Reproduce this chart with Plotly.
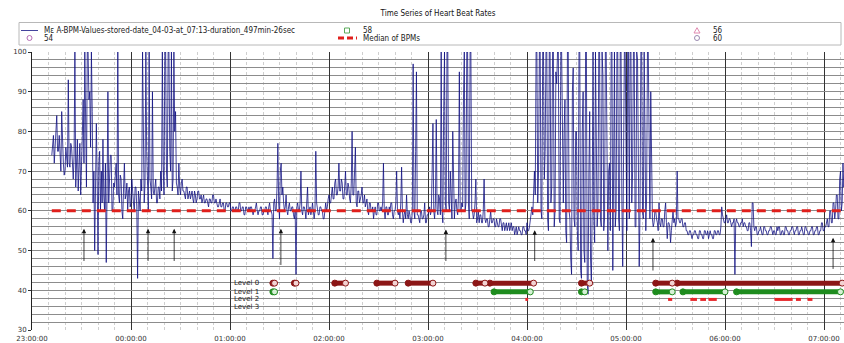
import plotly.graph_objects as go
import pandas as pd

# ---------------- data ----------------
START = "2021-04-02 23:12:00"   # first sample, one value every 30 seconds
SERIES_NAME = "Mε A-BPM-Values-stored-date_04-03-at_07:13-duration_497min-26sec"
BPM = [
    74, 78, 79, 72, 76, 81, 84, 75, 75, 79, 73, 70, 85, 74, 72, 69, 70, 76, 74, 71,
    93, 72, 71, 77, 76, 70, 68, 74, 100, 66, 72, 78, 65, 70, 77, 64, 70, 79, 88, 72,
    100, 74, 66, 100, 100, 88, 90, 76, 100, 85, 62, 70, 50, 66, 82, 68, 49, 72, 75, 60,
    70, 62, 78, 64, 60, 72, 47, 65, 90, 62, 68, 74, 74, 60, 60, 67, 66, 70, 72, 64,
    100, 64, 62, 69, 68, 60, 58, 66, 72, 63, 64, 67, 60, 65, 66, 61, 62, 68, 64, 62,
    60, 66, 66, 61, 43, 65, 63, 60, 68, 65, 100, 70, 62, 67, 100, 75, 64, 60, 100, 68,
    66, 63, 90, 65, 64, 67, 68, 62, 62, 66, 66, 63, 70, 65, 100, 72, 64, 100, 100, 70,
    66, 100, 100, 75, 70, 100, 65, 68, 100, 80, 85, 67, 66, 64, 72, 66, 64, 67, 68, 65,
    65, 64, 63, 66, 66, 63, 64, 65, 63, 64, 65, 63, 62, 65, 64, 62, 63, 65, 65, 63,
    63, 64, 62, 63, 64, 62, 62, 63, 63, 62, 61, 63, 63, 62, 62, 64, 64, 62, 62, 63,
    62, 61, 61, 62, 63, 61, 61, 62, 62, 60, 60, 62, 62, 61, 61, 62, 62, 60, 60, 61,
    61, 60, 60, 61, 61, 60, 60, 62, 62, 60, 60, 61, 61, 59, 59, 61, 61, 60, 60, 61,
    60, 61, 61, 60, 59, 60, 60, 61, 62, 60, 59, 60, 60, 61, 61, 59, 59, 60, 60, 61,
    61, 60, 59, 61, 62, 60, 60, 59, 48, 62, 63, 60, 60, 66, 77, 62, 58, 70, 72, 64,
    66, 62, 60, 61, 64, 60, 59, 61, 62, 60, 60, 61, 61, 59, 58, 60, 44, 61, 62, 60,
    60, 62, 70, 60, 59, 61, 61, 60, 58, 62, 66, 59, 60, 61, 59, 60, 62, 59, 58, 60,
    75, 62, 60, 59, 59, 61, 61, 60, 60, 58, 58, 61, 62, 60, 61, 63, 64, 62, 62, 64,
    66, 63, 63, 67, 68, 64, 64, 66, 72, 65, 65, 68, 67, 63, 63, 66, 70, 64, 64, 67,
    66, 63, 62, 67, 80, 64, 64, 70, 76, 62, 61, 65, 65, 62, 63, 64, 66, 62, 62, 64,
    61, 62, 63, 60, 59, 62, 62, 60, 60, 61, 58, 60, 61, 59, 59, 62, 62, 60, 60, 61,
    60, 62, 72, 60, 58, 61, 61, 59, 59, 61, 60, 62, 62, 59, 58, 60, 60, 62, 70, 60,
    59, 60, 58, 62, 71, 60, 57, 59, 60, 58, 64, 59, 58, 60, 59, 57, 57, 60, 97, 60,
    58, 75, 95, 59, 59, 58, 57, 60, 60, 58, 58, 59, 62, 57, 57, 59, 59, 60, 61, 59,
    60, 70, 82, 60, 58, 62, 83, 60, 59, 64, 63, 59, 100, 60, 57, 85, 100, 62, 60, 100,
    100, 62, 60, 70, 62, 58, 80, 60, 58, 62, 63, 60, 59, 64, 95, 60, 60, 62, 61, 88,
    100, 60, 62, 100, 100, 62, 58, 100, 100, 60, 60, 58, 59, 62, 68, 57, 58, 60, 57, 59,
    59, 57, 57, 60, 68, 58, 57, 58, 58, 56, 56, 58, 60, 57, 57, 58, 58, 56, 56, 58,
    57, 56, 56, 58, 58, 56, 55, 57, 57, 55, 56, 57, 55, 56, 57, 55, 56, 57, 55, 56,
    56, 54, 55, 56, 54, 55, 56, 55, 55, 54, 54, 56, 56, 55, 55, 54, 57, 55, 55, 56,
    58, 60, 61, 59, 66, 70, 64, 100, 100, 62, 70, 100, 100, 60, 58, 100, 100, 68, 75, 100,
    100, 58, 55, 100, 100, 62, 66, 100, 100, 56, 60, 95, 92, 100, 100, 58, 57, 100, 100, 70,
    62, 80, 88, 55, 52, 100, 100, 60, 58, 48, 44, 90, 96, 58, 56, 80, 80, 55, 50, 100,
    100, 45, 43, 80, 90, 50, 47, 100, 100, 42, 39, 70, 85, 48, 42, 60, 100, 58, 52, 100,
    78, 56, 60, 100, 100, 58, 56, 100, 94, 55, 58, 100, 100, 60, 50, 70, 72, 55, 100, 100,
    45, 70, 100, 56, 60, 100, 100, 58, 55, 100, 100, 62, 46, 72, 100, 100, 62, 55, 100, 100,
    58, 100, 100, 62, 70, 100, 100, 56, 56, 100, 98, 62, 46, 60, 100, 100, 60, 58, 100, 80,
    55, 64, 100, 100, 62, 58, 90, 70, 58, 56, 57, 60, 60, 58, 57, 55, 62, 57, 56, 58,
    58, 56, 56, 60, 62, 57, 53, 57, 57, 56, 52, 55, 58, 60, 57, 58, 56, 57, 70, 58,
    58, 57, 57, 58, 58, 56, 56, 57, 57, 55, 55, 54, 54, 55, 55, 54, 53, 54, 54, 55,
    55, 54, 54, 53, 53, 55, 55, 54, 54, 53, 53, 55, 55, 54, 54, 55, 53, 54, 55, 54,
    54, 53, 53, 55, 55, 54, 54, 55, 55, 54, 54, 56, 61, 59, 58, 57, 57, 58, 59, 57,
    57, 58, 58, 57, 56, 57, 57, 58, 44, 57, 58, 57, 57, 56, 56, 57, 57, 58, 56, 57,
    57, 56, 56, 55, 55, 57, 57, 55, 51, 62, 62, 56, 55, 56, 56, 54, 54, 55, 55, 56,
    55, 54, 54, 56, 56, 55, 55, 54, 54, 55, 55, 56, 56, 55, 54, 55, 55, 54, 54, 56,
    55, 56, 56, 54, 54, 55, 55, 54, 54, 56, 56, 55, 55, 54, 54, 55, 55, 56, 56, 55,
    54, 55, 55, 56, 56, 54, 54, 55, 55, 56, 55, 54, 54, 56, 56, 55, 55, 54, 54, 55,
    55, 56, 56, 54, 54, 55, 55, 56, 56, 54, 54, 55, 55, 57, 57, 55, 55, 56, 56, 57,
    58, 56, 56, 60, 60, 57, 57, 62, 62, 58, 60, 64, 64, 58, 58, 68, 70, 60, 62, 72, 66, 68,
]
MEDIAN_BPM = 60

LEVEL_LABELS = ["Level 0", "Level 1", "Level 2", "Level 3"]
LEVEL_Y = [41.8, 39.6, 37.7, 35.8]
LEVEL0_START = ["2021-04-03 01:26:00", "2021-04-03 01:39:00", "2021-04-03 02:03:30", "2021-04-03 02:29:00",
                "2021-04-03 02:48:00", "2021-04-03 03:29:00", "2021-04-03 03:37:30", "2021-04-03 04:33:00",
                "2021-04-03 05:18:00", "2021-04-03 05:31:00"]
LEVEL0_END = ["2021-04-03 01:27:00", "2021-04-03 01:40:00", "2021-04-03 02:10:00", "2021-04-03 02:40:00",
              "2021-04-03 03:03:00", "2021-04-03 03:34:30", "2021-04-03 04:04:00", "2021-04-03 04:38:00",
              "2021-04-03 05:28:00", "2021-04-03 07:11:00"]
LEVEL1_START = ["2021-04-03 01:26:00", "2021-04-03 03:40:00", "2021-04-03 04:33:00", "2021-04-03 05:18:00",
                "2021-04-03 05:34:30", "2021-04-03 06:07:00"]
LEVEL1_END = ["2021-04-03 01:27:00", "2021-04-03 04:02:00", "2021-04-03 04:35:00", "2021-04-03 05:28:00",
              "2021-04-03 06:00:00", "2021-04-03 07:10:00"]
LEVEL2_START = ["2021-04-03 03:59:00", "2021-04-03 05:25:30", "2021-04-03 05:39:00", "2021-04-03 05:45:00",
                "2021-04-03 05:50:00", "2021-04-03 06:30:00", "2021-04-03 06:43:00", "2021-04-03 06:50:00"]
LEVEL2_END = ["2021-04-03 04:00:40", "2021-04-03 05:28:00", "2021-04-03 05:43:00", "2021-04-03 05:48:30",
              "2021-04-03 05:55:00", "2021-04-03 06:41:00", "2021-04-03 06:46:00", "2021-04-03 06:53:00"]

ARROW_TIMES = ["2021-04-02 23:31:30", "2021-04-03 00:10:20", "2021-04-03 00:26:10", "2021-04-03 01:30:50",
               "2021-04-03 03:10:50", "2021-04-03 04:04:40", "2021-04-03 05:16:20", "2021-04-03 07:05:30"]
ARROW_TIP = [55.5, 55.5, 55.5, 55.5, 55.3, 55.1, 53.2, 53.2]
ARROW_TAIL = [47.0, 47.0, 47.0, 46.0, 47.0, 47.0, 44.6, 45.0]

X_RANGE = ["2021-04-02 23:00:00", "2021-04-03 07:12:07"]
Y_RANGE = [30, 100]

# ---------------- figure ----------------
times = pd.date_range(START, periods=len(BPM), freq="30s")

W_PX, H_PX = 844, 343
M_L, M_R, M_T, M_B = 32, 0, 52, 13
PW, PH = W_PX - M_L - M_R, H_PX - M_T - M_B


def pxx(p):
    return (p - M_L) / PW


def pxy(p):
    return 1 - (p - M_T) / PH


fig = go.Figure()

fig.add_trace(go.Scatter(x=times, y=BPM, mode="lines", name=SERIES_NAME,
                         line=dict(color="rgba(15,15,130,0.78)", width=1), showlegend=False))

fig.add_trace(go.Scatter(x=[times[0], times[-1]], y=[MEDIAN_BPM, MEDIAN_BPM], mode="lines",
                         name="Median of BPMs", showlegend=False,
                         line=dict(color="#e0201c", width=3, dash="9px,6px")))


def seg(starts, ends, yv):
    xs, ys = [], []
    for a, b in zip(starts, ends):
        xs += [a, b, None]
        ys += [yv, yv, None]
    return xs, ys


for starts, ends, yv, col, light in [
    (LEVEL0_START, LEVEL0_END, LEVEL_Y[0], "#8c1616", "#f2d2d2"),
    (LEVEL1_START, LEVEL1_END, LEVEL_Y[1], "#1e8c1e", "#d6f0d6"),
]:
    xs, ys = seg(starts, ends, yv)
    fig.add_trace(go.Scatter(x=xs, y=ys, mode="lines", showlegend=False,
                             line=dict(color=col, width=5)))
    fig.add_trace(go.Scatter(x=starts + ends, y=[yv] * (2 * len(starts)), mode="markers",
                             showlegend=False,
                             marker=dict(symbol="circle", size=6,
                                         color=[col] * len(starts) + [light] * len(ends),
                                         line=dict(color=col, width=1))))

xs, ys = seg(LEVEL2_START, LEVEL2_END, LEVEL_Y[2])
fig.add_trace(go.Scatter(x=xs, y=ys, mode="lines", showlegend=False,
                         line=dict(color="#e8262a", width=3)))

annotations = []
for lab, yv in zip(LEVEL_LABELS, LEVEL_Y):
    annotations.append(dict(x="2021-04-03 01:01:00", y=yv, xref="x", yref="y", text=lab,
                            showarrow=False, xanchor="left", yanchor="middle",
                            font=dict(family="DejaVu Sans", size=7, color="#222")))

for t, tip, tail in zip(ARROW_TIMES, ARROW_TIP, ARROW_TAIL):
    annotations.append(dict(x=t, y=tip, ax=t, ay=tail, xref="x", yref="y", axref="x", ayref="y",
                            text="", showarrow=True, arrowhead=2, arrowsize=1.1, arrowwidth=0.8,
                            arrowcolor="#111"))

# ---- legend (drawn in the top margin) ----
LEG_FONT = dict(family="DejaVu Sans Condensed, DejaVu Sans", size=8, color="#222")
R1, R2 = 30.5, 38.0
shapes = [
    dict(type="rect", xref="paper", yref="paper", x0=pxx(19), x1=pxx(841), y0=pxy(45), y1=pxy(22.5),
         line=dict(color="#b8b8b8", width=1), fillcolor="white", layer="below"),
    dict(type="line", xref="paper", yref="paper", x0=pxx(21), x1=pxx(38), y0=pxy(R1), y1=pxy(R1),
         line=dict(color="rgba(15,15,130,0.78)", width=1)),
    dict(type="line", xref="paper", yref="paper", x0=pxx(338), x1=pxx(357), y0=pxy(R2), y1=pxy(R2),
         line=dict(color="#e0201c", width=3, dash="6px,3px")),
]


def pix_shape(kind, cx, cy, col, path=None, r=2.5):
    d = dict(type=kind, xref="paper", yref="paper", xsizemode="pixel", ysizemode="pixel",
             xanchor=pxx(cx), yanchor=pxy(cy), line=dict(color=col, width=1), fillcolor="rgba(0,0,0,0)")
    if path:
        d["path"] = path
    else:
        d.update(x0=-r, x1=r, y0=-r, y1=r)
    return d


shapes.append(pix_shape("circle", 29.5, R2, "#b46cb4"))
shapes.append(pix_shape("rect", 347, R1, "#5aaa5a"))
shapes.append(pix_shape("path", 697, R1, "#e08ab0", path="M-3,-2.5 L3,-2.5 L0,2.8 Z"))
shapes.append(pix_shape("circle", 697, R2, "#9a8ab0"))

for txt, x, y in [(SERIES_NAME, 42, R1), ("54", 42, R2), ("58", 361, R1), ("Median of BPMs", 361, R2),
                  ("56", 711, R1), ("60", 711, R2)]:
    annotations.append(dict(x=pxx(x), y=pxy(y), xref="paper", yref="paper", text=txt, showarrow=False,
                            xanchor="left", yanchor="middle", font=LEG_FONT))

fig.update_layout(
    width=W_PX, height=H_PX,
    margin=dict(l=M_L, r=M_R, t=M_T, b=M_B),
    paper_bgcolor="white", plot_bgcolor="white",
    showlegend=False,
    title=dict(text="Time Series of Heart Beat Rates", x=0.5, xref="paper", xanchor="center",
               y=1 - 13 / H_PX, yanchor="middle", yref="container",
               font=dict(family="DejaVu Sans Condensed, DejaVu Sans", size=8, color="#111")),
    annotations=annotations,
    shapes=shapes,
    xaxis=dict(type="date", range=X_RANGE, tick0="2021-04-02 23:00:00", dtick=3600000,
               tickformat="%H:%M:%S", showgrid=True, gridcolor="#333", gridwidth=1.2,
               ticks="", showline=False, zeroline=False, ticklabelstandoff=3,
               tickfont=dict(family="DejaVu Sans", size=7, color="#333"),
               minor=dict(dtick=600000, tick0="2021-04-02 23:00:00", showgrid=True,
                          gridcolor="#cfcfcf", griddash="3px,2px", gridwidth=1)),
    yaxis=dict(range=Y_RANGE, tick0=0, dtick=10, showgrid=True, gridcolor="#8c8c8c", gridwidth=1,
               ticks="outside", ticklen=3, tickcolor="#333", showline=True, linecolor="#222",
               linewidth=1, zeroline=False,
               tickfont=dict(family="DejaVu Sans", size=7, color="#333"),
               minor=dict(dtick=2, showgrid=True, gridcolor="#8c8c8c", gridwidth=1)),
)

fig.write_html("out.html")
